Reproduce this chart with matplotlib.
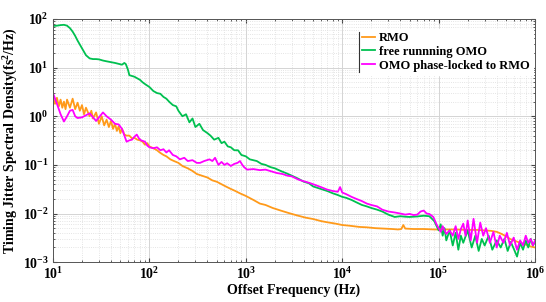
import matplotlib
matplotlib.use('Agg')
import matplotlib.pyplot as plt
from matplotlib.ticker import LogLocator, FuncFormatter, NullFormatter
import numpy as np

plt.rcParams['font.family'] = ['Liberation Serif', 'DejaVu Serif']
plt.rcParams['font.weight'] = 'bold'
plt.rcParams['mathtext.fontset'] = 'custom'
plt.rcParams['mathtext.rm'] = 'Liberation Serif:bold'
plt.rcParams['mathtext.bf'] = 'Liberation Serif:bold'
plt.rcParams['mathtext.it'] = 'Liberation Serif:bold:italic'

# RMO
rmo_f = [10, 10.5, 11, 11.5, 12, 12.5, 13, 13.5, 14, 15, 16, 17, 18, 19, 20, 21, 22, 24, 25, 26,
         28, 30, 32, 34, 36, 38, 40, 42, 44, 46, 48, 50, 52, 55, 58, 62, 66, 70, 75, 80,
         85, 90, 95, 100, 110, 120, 128, 140, 150, 165, 180, 200, 220, 250, 280, 310, 350, 400, 450, 500,
         560, 620, 700, 780, 870, 1000, 1200, 1400, 1600, 1900, 2300, 2800, 3500, 4200, 5000, 6000, 7000, 8500, 10000, 12000,
         15000, 18000, 22000, 27000, 33000, 38000, 41000, 43000, 45000, 55000, 70000, 90000, 110000, 150000, 200000, 250000, 300000, 350000, 400000, 450000,
         500000, 550000, 600000, 700000, 800000, 900000, 1000000]
rmo_v = [2.5, 1.8, 2.4, 1.6, 2.2, 1.5, 2.0, 1.4, 2.2, 1.5, 2.3, 1.4, 1.9, 1.3, 1.7, 1.1, 1.5, 1.0, 1.3, 0.9,
         1.2, 0.7, 1.0, 0.65, 0.85, 0.6, 0.8, 0.55, 0.7, 0.5, 0.62, 0.45, 0.55, 0.42, 0.4, 0.4, 0.35, 0.36, 0.33, 0.32,
         0.3, 0.26, 0.28, 0.24, 0.22, 0.2, 0.18, 0.16, 0.15, 0.13, 0.12, 0.11, 0.095, 0.085, 0.075, 0.065, 0.06, 0.055, 0.048, 0.045,
         0.04, 0.036, 0.032, 0.029, 0.026, 0.023, 0.019, 0.016, 0.015, 0.013, 0.0115, 0.0102, 0.009, 0.0082, 0.0077, 0.007, 0.0066, 0.0062, 0.0058, 0.0056,
         0.0053, 0.0052, 0.005, 0.0049, 0.0048, 0.0047, 0.0048, 0.0058, 0.0049, 0.0048, 0.0048, 0.0047, 0.0047, 0.0047, 0.0046, 0.0046, 0.0045, 0.0044, 0.0042, 0.0038,
         0.0034, 0.003, 0.0028, 0.0025, 0.0023, 0.0021, 0.002]

# free running OMO
free_f = [10, 11, 12, 13, 14, 15, 16, 17, 18, 20, 22, 24, 26, 28, 30, 33, 36, 40, 44, 48,
          52, 55, 57, 60, 62, 65, 70, 75, 80, 85, 90, 100, 110, 120, 130, 140, 150, 160, 175, 190,
          200, 220, 240, 260, 280, 300, 330, 360, 400, 430, 470, 520, 560, 600, 650, 700, 760, 830, 900, 1000,
          1100, 1200, 1300, 1450, 1600, 1800, 2000, 2300, 2600, 3000, 3500, 4000, 4500, 5000, 6000, 7000, 8000, 9000, 10000, 11000,
          12500, 14000, 16000, 18000, 20000, 23000, 26000, 30000, 35000, 40000, 45000, 50000, 55000, 60000, 70000, 80000, 90000, 100000, 105000, 110000,
          115000, 120000, 130000, 140000, 150000, 160000, 170000, 180000, 200000, 220000, 240000, 260000, 280000, 300000, 330000, 360000, 400000, 440000, 480000, 520000,
          560000, 600000, 650000, 700000, 750000, 800000, 850000, 900000, 950000, 1000000]
free_v = [72, 73, 75, 76, 73, 65, 55, 45, 36, 25, 18, 15.5, 15, 15, 14.8, 14, 13.5, 13, 12.5, 12.0,
          11.5, 12.5, 11.8, 9, 7, 6.8, 6.5, 6.0, 5.6, 5.0, 4.6, 4.0, 3.3, 3.0, 2.9, 2.5, 2.3, 2.0, 1.7, 1.6,
          1.3, 1.0, 1.1, 0.75, 0.9, 0.6, 0.7, 0.52, 0.45, 0.4, 0.33, 0.36, 0.28, 0.3, 0.24, 0.23, 0.2, 0.2, 0.16, 0.15,
          0.13, 0.125, 0.12, 0.105, 0.1, 0.09, 0.085, 0.075, 0.068, 0.06, 0.052, 0.045, 0.042, 0.036, 0.032, 0.029, 0.026, 0.024, 0.022, 0.021,
          0.019, 0.017, 0.015, 0.014, 0.013, 0.012, 0.011, 0.0095, 0.0085, 0.0088, 0.0086, 0.0085, 0.0086, 0.0087, 0.009, 0.0088, 0.007, 0.0045, 0.006, 0.0035,
          0.005, 0.0028, 0.0045, 0.0022, 0.004, 0.0018, 0.0035, 0.0025, 0.0045, 0.002, 0.0035, 0.0017, 0.003, 0.0022, 0.0035, 0.0018, 0.0028, 0.002, 0.003, 0.0017,
          0.0026, 0.0019, 0.0013, 0.0025, 0.0018, 0.0028, 0.002, 0.003, 0.0022, 0.0026]

# OMO phase-locked to RMO
lock_f = [10, 11, 12, 13, 14, 15, 16, 17, 18, 20, 22, 24, 26, 28, 30, 33, 36, 40, 44, 48,
          52, 55, 58, 62, 66, 70, 74, 78, 82, 90, 95, 100, 110, 120, 130, 140, 150, 160, 175, 190,
          207, 230, 250, 280, 310, 335, 370, 420, 450, 480, 520, 560, 600, 640, 700, 760, 820, 870, 920, 960,
          1030, 1200, 1400, 1600, 1900, 2100, 2400, 2700, 3000, 3500, 4000, 4500, 5000, 6000, 7000, 8000, 9000, 9500, 10000, 11000,
          12500, 14000, 16000, 18000, 20000, 23000, 26000, 30000, 35000, 40000, 45000, 50000, 55000, 60000, 65000, 70000, 75000, 80000, 88000, 95000,
          100000, 105000, 110000, 120000, 130000, 140000, 150000, 160000, 170000, 180000, 190000, 200000, 215000, 230000, 250000, 270000, 290000, 310000, 340000, 370000,
          400000, 430000, 470000, 510000, 550000, 600000, 650000, 700000, 750000, 800000, 850000, 900000, 950000, 1000000]
lock_v = [3.0, 1.8, 1.1, 0.78, 1.0, 1.3, 1.35, 1.0, 0.92, 0.95, 1.05, 1.15, 0.95, 0.8, 0.95, 1.2, 1.0, 0.85, 0.7, 0.68,
          0.55, 0.4, 0.3, 0.32, 0.33, 0.38, 0.42, 0.35, 0.32, 0.3, 0.25, 0.23, 0.22, 0.23, 0.2, 0.21, 0.18, 0.2, 0.16, 0.15,
          0.13, 0.14, 0.12, 0.125, 0.11, 0.11, 0.12, 0.13, 0.12, 0.14, 0.1, 0.115, 0.1, 0.108, 0.095, 0.105, 0.11, 0.12, 0.1, 0.09,
          0.08, 0.082, 0.078, 0.08, 0.072, 0.068, 0.065, 0.06, 0.058, 0.05, 0.046, 0.043, 0.04, 0.035, 0.031, 0.029, 0.028, 0.035, 0.027, 0.025,
          0.022, 0.02, 0.018, 0.016, 0.015, 0.014, 0.012, 0.011, 0.0105, 0.01, 0.0095, 0.0098, 0.0093, 0.0095, 0.011, 0.0115, 0.01, 0.0098, 0.0085, 0.006,
          0.005, 0.0042, 0.0055, 0.0038, 0.0045, 0.0035, 0.0055, 0.003, 0.0048, 0.0062, 0.0035, 0.0072, 0.0028, 0.0078, 0.0025, 0.0065, 0.0035, 0.005, 0.0025, 0.0042,
          0.002, 0.0035, 0.0025, 0.004, 0.0022, 0.0032, 0.0018, 0.0028, 0.0022, 0.0035, 0.0025, 0.003, 0.0022, 0.0028]

fig = plt.figure(figsize=(5.46, 3.02), dpi=100)
ax = fig.add_axes([0.097, 0.132, 0.883, 0.805])

ax.plot(rmo_f, rmo_v, color='#FF9A1A', lw=1.3, label='RMO')
ax.plot(free_f, free_v, color='#00C050', lw=1.3, label='free runnning OMO')
ax.plot(lock_f, lock_v, color='#FF00FF', lw=1.3, label='OMO phase-locked to RMO')

ax.set_xscale('log')
ax.set_yscale('log')
ax.set_xlim(10, 1e6)
ax.set_ylim(1e-3, 1e2)

ax.xaxis.set_major_locator(LogLocator(base=10, numticks=10))
ax.yaxis.set_major_locator(LogLocator(base=10, numticks=10))
ax.xaxis.set_minor_locator(LogLocator(base=10, subs=np.arange(2, 10), numticks=20))
ax.yaxis.set_minor_locator(LogLocator(base=10, subs=np.arange(2, 10), numticks=20))
fmt = FuncFormatter(lambda v, p: r'$\mathbf{10^{%d}}$' % int(round(np.log10(v))))
ax.xaxis.set_major_formatter(fmt)
ax.yaxis.set_major_formatter(fmt)
ax.xaxis.set_minor_formatter(NullFormatter())
ax.yaxis.set_minor_formatter(NullFormatter())

ax.grid(True, which='major', color='#d4d4d4', lw=0.7, ls='-')
ax.grid(True, which='minor', color='#dcdcdc', lw=0.6, ls=':')
ax.set_axisbelow(True)
ax.tick_params(which='both', direction='in', top=True, right=True, color='#444444')
ax.tick_params(which='major', length=3, labelsize=10, pad=3)
ax.tick_params(which='minor', length=1.5)
for s in ax.spines.values():
    s.set_color('#555555')
    s.set_linewidth(0.7)

ax.set_xlabel('Offset Frequency (Hz)', fontsize=10, fontweight='bold', labelpad=1)
ax.set_ylabel('Timing Jitter Spectral Density(fs$^2$/Hz)', fontsize=10, fontweight='bold', labelpad=2)

leg = ax.legend(loc='upper left', bbox_to_anchor=(0.634, 0.96), fontsize=9, frameon=True,
                handlelength=1.1, handletextpad=0.3, labelspacing=0.15, borderpad=0.25,
                borderaxespad=0, fancybox=False)
leg.get_frame().set_edgecolor('white')
leg.get_frame().set_facecolor('white')
leg.get_frame().set_alpha(1)
ax.plot([0.634, 0.634], [0.782, 0.948], transform=ax.transAxes, color='#333333', lw=0.8, zorder=10)

fig.savefig('out.png', dpi=100)
